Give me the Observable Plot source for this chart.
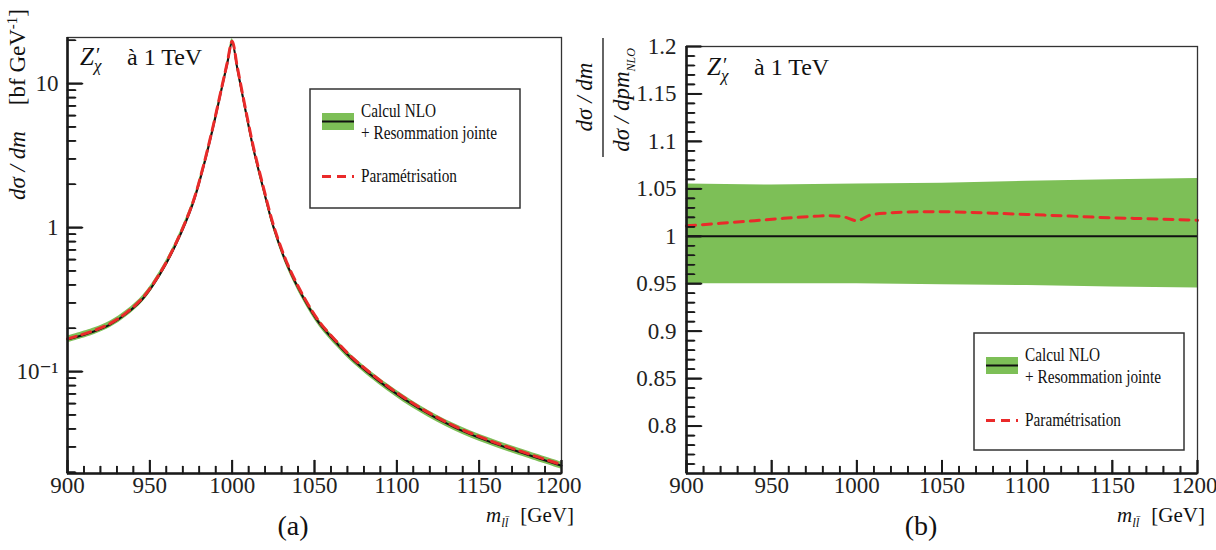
<!DOCTYPE html>
<html><head><meta charset="utf-8">
<script src="https://cdn.jsdelivr.net/npm/d3@7"></script>
<script src="https://cdn.jsdelivr.net/npm/@observablehq/plot@0.6"></script>
<style>
body{margin:0;background:#fff;}
#wrap{position:relative;width:1216px;height:550px;overflow:hidden;background:#fff;}
#wrap svg{position:absolute;top:0;}
</style></head><body><div id="wrap"></div>
<script>
// ---- data ----
const massNLO = [900, 916, 926, 936, 946, 956, 966, 976, 982, 988, 994, 997, 1000, 1003, 1005, 1009, 1013, 1019, 1025, 1033, 1043, 1053, 1064, 1074, 1094, 1114, 1135, 1155, 1175, 1200];
const xsecNLO = [0.167, 0.190, 0.213, 0.254, 0.323, 0.47, 0.77, 1.45, 2.49, 4.72, 9.6, 13.7, 19.4, 13.0, 9.9, 5.8, 3.5, 1.85, 1.02, 0.565, 0.33, 0.216, 0.155, 0.119, 0.078, 0.055, 0.041, 0.033, 0.0275, 0.0222];
const ratioMass = [900, 920, 940, 957, 975, 984, 992, 1000, 1008, 1018, 1030, 1045, 1065, 1085, 1104, 1125, 1143, 1170, 1200];
const ratioParam = [1.011, 1.0137, 1.0164, 1.0189, 1.021, 1.0217, 1.0206, 1.0164, 1.0224, 1.0245, 1.0255, 1.0259, 1.0253, 1.024, 1.0227, 1.0213, 1.0199, 1.0185, 1.0168];
const bandMass = [900, 950, 1000, 1050, 1100, 1150, 1200];
const bandHi = [1.055, 1.054, 1.055, 1.056, 1.058, 1.0595, 1.061];
const bandLo = [0.950, 0.950, 0.950, 0.949, 0.948, 0.9465, 0.9455];
const xTicks = [900, 950, 1000, 1050, 1100, 1150, 1200];
const xTickLabels = ["900", "950", "1000", "1050", "1100", "1150", "1200"];
const logTicks = [0.1, 1, 10];
const logTickLabels = ["10\u207B\u00B9", "1", "10"];
const ratioTicks = [0.8, 0.85, 0.9, 0.95, 1, 1.05, 1.1, 1.15, 1.2];
const ratioTickLabels = ["0.8", "0.85", "0.9", "0.95", "1", "1.05", "1.1", "1.15", "1.2"];
const legendLabels = ["Calcul NLO", "+ Resommation jointe", "Paramétrisation"];
const titleRest = "à 1 TeV";
const panelLabels = ["(a)", "(b)"];

// ---- styles ----
const SERIF = "'Liberation Serif', 'DejaVu Serif', serif";
const GREEN = "#7dbf57", RED = "#ea2a2a", AX = "#1a1a1a";

// ---- derived tables ----
const hiAt = d3.scaleLinear(bandMass, bandHi), loAt = d3.scaleLinear(bandMass, bandLo), parAt = d3.scaleLinear(ratioMass, ratioParam);
const nlo = massNLO.map((m, i) => ({m, v: xsecNLO[i], lo: xsecNLO[i] * loAt(m), hi: xsecNLO[i] * hiAt(m), p: xsecNLO[i] * parAt(m)}));
const band = bandMass.map((m, i) => ({m, lo: bandLo[i], hi: bandHi[i]}));
const par = ratioMass.map((m, i) => ({m, r: ratioParam[i]}));
const xMinor = d3.range(900, 1201, 10).filter(d => d % 50 !== 0);
const logDomain = [0.0196, 20.9];
const logMinor = [];
for (const dec of [0.01, 0.1, 1, 10]) for (let k = 2; k <= 9; k++) { const v = k * dec; if (v > logDomain[0] && v < logDomain[1]) logMinor.push(v); }
const ratioDomain = [0.75, 1.2];
const ratioMinor = d3.range(75, 121, 1).map(d => d / 100).filter(d => Math.round(d * 100) % 5 !== 0);

const wrap = document.getElementById("wrap");

// inward tick marks: two redundant encodings (tick marks with insets, and short line segments)
function tickMarks(fw, fh, yLen, xMajor, xMin, yMajor, yMin) {
  const xLen = px => 900 + px * 300 / fw;
  const segs = [];
  let id = 0;
  const addX = (vals, px) => vals.forEach(v => { id++; segs.push({x: v, y: yLen(0), id, w: px > 10 ? 2 : 1.6}, {x: v, y: yLen(px), id, w: px > 10 ? 2 : 1.6}); });
  const addY = (vals, px) => vals.forEach(v => { id++; segs.push({x: 900, y: v, id, w: px > 10 ? 2 : 1.6}, {x: xLen(px), y: v, id, w: px > 10 ? 2 : 1.6}); });
  addX(xMajor, 13); addX(xMin, 7); addY(yMajor, 15); addY(yMin, 8);
  return [
    Plot.tickX(xMajor, {x: d => d, insetTop: fh - 13, stroke: AX, strokeWidth: 2}),
    Plot.tickX(xMin, {x: d => d, insetTop: fh - 7, stroke: AX, strokeWidth: 1.6}),
    Plot.tickY(yMajor, {y: d => d, insetRight: fw - 15, stroke: AX, strokeWidth: 2}),
    Plot.tickY(yMin, {y: d => d, insetRight: fw - 8, stroke: AX, strokeWidth: 1.6}),
    Plot.line(segs, {x: "x", y: "y", z: "id", stroke: AX, strokeWidth: 1.7}),
  ];
}
function xLabels() {
  return [
    Plot.text(xTicks.slice(0, -1), {x: d => d, frameAnchor: "bottom", dy: 19, text: (d, i) => xTickLabels[i], fontSize: 23, fill: "#222"}),
    Plot.text(xTicks.slice(-1), {x: d => d, frameAnchor: "bottom", dy: 19, dx: -3, text: () => xTickLabels[xTickLabels.length - 1], fontSize: 23, fill: "#222"}),
  ];
}

// ---------------- left panel ----------------
const LW = 570, LH = 550, lm = {l: 67, r: 9, t: 37, b: 77};
const lfw = LW - lm.l - lm.r, lfh = LH - lm.t - lm.b;
const logLen = px => logDomain[0] * Math.pow(logDomain[1] / logDomain[0], px / lfh);
const left = Plot.plot({
  width: LW, height: LH, marginLeft: lm.l, marginRight: lm.r, marginTop: lm.t, marginBottom: lm.b,
  style: {fontFamily: SERIF, background: "transparent", overflow: "visible"},
  x: {domain: [900, 1200], axis: null},
  y: {type: "log", domain: logDomain, axis: null},
  marks: [
    Plot.areaY(nlo, {x: "m", y1: "lo", y2: "hi", fill: GREEN, curve: "catmull-rom"}),
    Plot.line(nlo, {x: "m", y: "v", stroke: "#111", strokeWidth: 2, curve: "catmull-rom"}),
    Plot.line(nlo, {x: "m", y: "p", stroke: RED, strokeWidth: 3, strokeDasharray: "9,6", curve: "catmull-rom"}),
    Plot.frame({stroke: "#333", strokeWidth: 1.3}),
    ...tickMarks(lfw, lfh, logLen, xTicks, xMinor, logTicks, logMinor),
    Plot.ruleX([900], {stroke: AX, strokeWidth: 2.6}),
    Plot.ruleY([logDomain[0]], {stroke: AX, strokeWidth: 2.6}),
    ...xLabels(),
    Plot.text(logTicks, {y: d => d, frameAnchor: "left", dx: -9, textAnchor: "end", text: (d, i) => logTickLabels[i], fontSize: 23, fill: "#222"}),
  ]
});
left.style.left = "0px";
wrap.appendChild(left);

// ---------------- right panel ----------------
const RX = 570, RW = 646, RH = 550, rm = {l: 116, r: 19, t: 46, b: 77};
const rfw = RW - rm.l - rm.r, rfh = RH - rm.t - rm.b;
const linLen = px => ratioDomain[0] + px * (ratioDomain[1] - ratioDomain[0]) / rfh;
const right = Plot.plot({
  width: RW, height: RH, marginLeft: rm.l, marginRight: rm.r, marginTop: rm.t, marginBottom: rm.b,
  style: {fontFamily: SERIF, background: "transparent", overflow: "visible"},
  x: {domain: [900, 1200], axis: null},
  y: {domain: ratioDomain, axis: null},
  marks: [
    Plot.areaY(band, {x: "m", y1: "lo", y2: "hi", fill: GREEN}),
    Plot.ruleY([1], {stroke: "#111", strokeWidth: 2}),
    Plot.line(par, {x: "m", y: "r", stroke: RED, strokeWidth: 3, strokeDasharray: "9,7", curve: "monotone-x"}),
    Plot.frame({stroke: "#333", strokeWidth: 1.3}),
    ...tickMarks(rfw, rfh, linLen, xTicks, xMinor, ratioTicks, ratioMinor),
    Plot.ruleX([900], {stroke: AX, strokeWidth: 2.6}),
    Plot.ruleY([ratioDomain[0]], {stroke: AX, strokeWidth: 2.6}),
    ...xLabels(),
    Plot.text(ratioTicks, {y: d => d, frameAnchor: "left", dx: -10, textAnchor: "end", text: (d, i) => ratioTickLabels[i], fontSize: 23, fill: "#222"}),
  ]
});
right.style.left = RX + "px";
wrap.appendChild(right);

// ---------------- annotations ----------------
function title(svg, x, y) {
  const g = d3.select(svg).append("g").attr("font-family", SERIF).attr("fill", "#111").attr("text-anchor", "start");
  g.append("text").attr("x", x).attr("y", y).attr("font-size", 25).attr("font-style", "italic").text("Z");
  g.append("text").attr("x", x + 16).attr("y", y - 3).attr("font-size", 20).text("\u2032");
  g.append("text").attr("x", x + 14).attr("y", y + 6).attr("font-size", 17).attr("font-style", "italic").text("\u03C7");
  g.append("text").attr("x", x + 47).attr("y", y).attr("font-size", 24).text(titleRest);
}
function xTitle(svg, xEnd, y) {
  const t = d3.select(svg).append("text").attr("x", xEnd).attr("y", y).attr("text-anchor", "end").attr("font-family", SERIF).attr("font-size", 21).attr("fill", "#111");
  t.append("tspan").attr("font-style", "italic").text("m");
  t.append("tspan").attr("font-style", "italic").attr("font-size", 13).attr("dy", 5).text("ll\u0304");
  t.append("tspan").attr("dy", -5).attr("dx", 12).text("[GeV]");
}
function panelLabel(svg, x, y, s) {
  d3.select(svg).append("text").attr("x", x).attr("y", y).attr("text-anchor", "middle").attr("font-family", SERIF).attr("font-size", 28).attr("fill", "#111").text(s);
}
function legend(svg, x0, y0, w, h) {
  const g = d3.select(svg).append("g").attr("font-family", SERIF).attr("fill", "#111").attr("text-anchor", "start");
  g.append("rect").attr("x", x0).attr("y", y0).attr("width", w).attr("height", h).attr("fill", "white").attr("stroke", "#333").attr("stroke-width", 1.5);
  const sx = x0 + 12, sw = 32;
  g.append("rect").attr("x", sx).attr("y", y0 + 24).attr("width", sw).attr("height", 17).attr("fill", GREEN);
  g.append("line").attr("x1", sx).attr("x2", sx + sw).attr("y1", y0 + 32.5).attr("y2", y0 + 32.5).attr("stroke", "#111").attr("stroke-width", 2);
  g.append("line").attr("x1", sx).attr("x2", sx + sw).attr("y1", y0 + 87.5).attr("y2", y0 + 87.5).attr("stroke", RED).attr("stroke-width", 3).attr("stroke-dasharray", "9,6");
  const tx = x0 + 51;
  const lens = [75, 136, 96], ys = [y0 + 28, y0 + 50, y0 + 93];
  legendLabels.forEach((s, i) => {
    g.append("text").attr("x", tx).attr("y", ys[i]).attr("font-size", 18).attr("textLength", lens[i]).attr("lengthAdjust", "spacingAndGlyphs").text(s);
  });
}

// left annotations
title(left, 80, 65);
xTitle(left, 574, 522);
panelLabel(left, 293, 535, panelLabels[0]);
legend(left, 310, 89, 210, 119);
{
  const t = d3.select(left).append("text").attr("transform", "translate(25,200) rotate(-90)").attr("text-anchor", "start").attr("font-family", SERIF).attr("font-size", 23).attr("fill", "#111");
  t.append("tspan").attr("font-style", "italic").text("d\u03C3 / dm");
  t.append("tspan").attr("dx", 26).text("[bf GeV");
  t.append("tspan").attr("dy", -8).attr("font-size", 15).text("-1");
  t.append("tspan").attr("dy", 8).text("]");
}

// right annotations (local coords = page x - RX)
title(right, 707 - RX, 75);
xTitle(right, 1205 - RX, 522);
panelLabel(right, 921 - RX, 535, panelLabels[1]);
legend(right, 974 - RX, 333, 210, 117);
{
  const g = d3.select(right).append("g").attr("font-family", SERIF).attr("fill", "#111");
  const num = g.append("text").attr("transform", `translate(${592 - RX},97) rotate(-90)`).attr("text-anchor", "middle").attr("font-size", 23).attr("font-style", "italic");
  num.text("d\u03C3 / dm");
  g.append("line").attr("x1", 603 - RX).attr("x2", 603 - RX).attr("y1", 38).attr("y2", 157).attr("stroke", "#111").attr("stroke-width", 1.3);
  const den = g.append("text").attr("transform", `translate(${629 - RX},100) rotate(-90)`).attr("text-anchor", "middle").attr("font-size", 23).attr("font-style", "italic");
  den.append("tspan").text("d\u03C3 / dpm");
  den.append("tspan").attr("font-size", 12).attr("dy", 6).text("NLO");
}
</script></body></html>
